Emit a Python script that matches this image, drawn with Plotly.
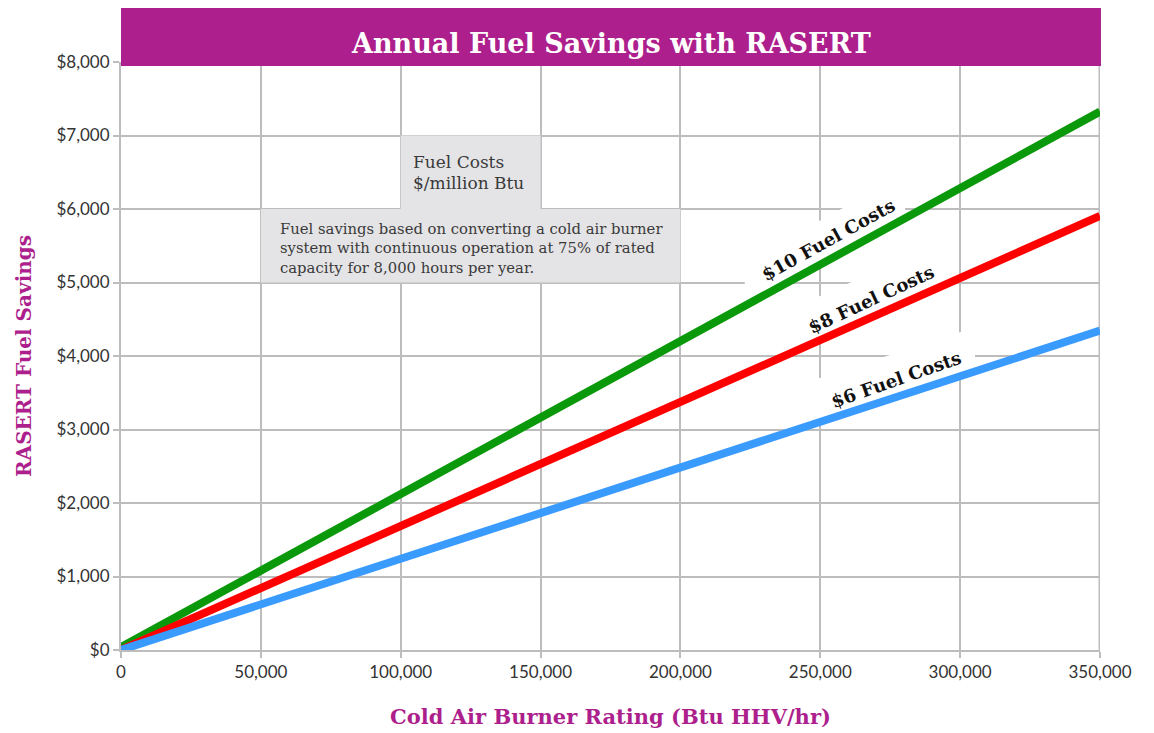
import plotly.graph_objects as go

# Data
burner_rating = [0, 350000]
savings_10 = [40, 7325]
savings_8 = [0, 5905]
savings_6 = [0, 4345]
series_names = ["$10 Fuel Costs", "$8 Fuel Costs", "$6 Fuel Costs"]
x_ticks = [0, 50000, 100000, 150000, 200000, 250000, 300000, 350000]
y_ticks = [0, 1000, 2000, 3000, 4000, 5000, 6000, 7000, 8000]
x_labels = ["{:,}".format(v) for v in x_ticks]
y_labels = ["${:,}".format(v) for v in y_ticks]

MAGENTA = "#AD1F8C"
GRID = "#BDBDBD"
SLAB = "DejaVu Serif"
SANS = "Lato, Open Sans, sans-serif"

fig = go.Figure()
colors = ["#0A990A", "#FF0000", "#3A9BFF"]
all_series = [savings_10, savings_8, savings_6]
for name, ys, c in zip(series_names, all_series, colors):
    fig.add_trace(go.Scatter(x=burner_rating, y=ys, mode="lines", name=name,
                             line=dict(color=c, width=8), cliponaxis=False,
                             hoverinfo="skip"))

# grey note boxes
fig.add_shape(type="rect", x0=100000, x1=150000, y0=6000, y1=7000,
              fillcolor="#E4E4E6", line=dict(width=0), layer="between")
fig.add_shape(type="rect", x0=50000, x1=200000, y0=5000, y1=6000,
              fillcolor="#E4E4E6", line=dict(width=0), layer="between")


def line_at(ys, xv):
    return ys[0] + (ys[1] - ys[0]) * (xv - burner_rating[0]) / (burner_rating[1] - burner_rating[0])


# white backing under the line labels (hides grid, stays under the lines)
for ys, xa, xb in [(savings_10, 223000, 280300), (savings_8, 241000, 296400), (savings_6, 248100, 305300)]:
    ya, yb = line_at(ys, xa), line_at(ys, xb)
    off = 600
    path = f"M {xa},{ya} L {xb},{yb} L {xb},{yb + off} L {xa},{ya + off} Z"
    fig.add_shape(type="path", path=path, fillcolor="white", line=dict(width=0), layer="between")

# title bar
fig.add_shape(type="rect", xref="paper", yref="paper", x0=0, x1=1.001,
              y0=0.993, y1=1.097, fillcolor=MAGENTA, line=dict(width=0), layer="above")

ann = []
ann.append(dict(xref="paper", yref="paper", x=0.5, y=1.031, text="<b>Annual Fuel Savings with RASERT</b>",
                showarrow=False, font=dict(family=SLAB, size=27, color="white"),
                xanchor="center", yanchor="middle"))
# box 1 text
for txt, yv in [("Fuel Costs", 6640), ("$/million Btu", 6360)]:
    ann.append(dict(x=103800, y=yv, text=txt, showarrow=False, xanchor="left", yanchor="middle",
                    font=dict(family=SLAB, size=17, color="#3a3a3a")))
box2 = ["Fuel savings based on converting a cold air burner",
        "system with continuous operation at 75% of rated",
        "capacity for 8,000 hours per year."]
for txt, yv in zip(box2, [5740, 5470, 5200]):
    ann.append(dict(x=56000, y=yv, text=txt, showarrow=False, xanchor="left", yanchor="middle",
                    font=dict(family=SLAB, size=14.8, color="#3a3a3a")))

# line labels
for txt, xv, yv, ang in [(series_names[0], 253000, 5580, -29),
                         (series_names[1], 268000, 4770, -25),
                         (series_names[2], 277000, 3680, -19.5)]:
    ann.append(dict(x=xv, y=yv, text="<b>" + txt + "</b>", showarrow=False, textangle=ang,
                    font=dict(family=SLAB, size=18, color="#111111")))
fig.update_layout(annotations=ann)

fig.update_layout(
    width=1154, height=733,
    margin=dict(l=113, r=62, t=54, b=91),
    paper_bgcolor="white", plot_bgcolor="white",
    showlegend=False,
    xaxis=dict(range=[0, 350000], tickmode="array", tickvals=x_ticks, ticktext=x_labels,
               showgrid=True, gridcolor=GRID, gridwidth=2,
               zeroline=False, showline=True, linecolor=GRID, linewidth=2, mirror=False,
               ticks="outside", ticklen=6, tickcolor=GRID, tickwidth=2,
               tickfont=dict(family=SANS, size=17, color="#333333"),
               title=dict(text="<b>Cold Air Burner Rating (Btu HHV/hr)</b>", standoff=28,
                          font=dict(family=SLAB, size=21, color=MAGENTA))),
    yaxis=dict(range=[0, 8000], tickmode="array", tickvals=y_ticks, ticktext=y_labels,
               showgrid=True, gridcolor=GRID, gridwidth=2,
               zeroline=False, showline=True, linecolor=GRID, linewidth=2,
               ticks="outside", ticklen=6, tickcolor=GRID, tickwidth=2,
               tickfont=dict(family=SANS, size=17, color="#333333"),
               title=dict(text="<b>RASERT Fuel Savings</b>", standoff=19,
                          font=dict(family=SLAB, size=20, color=MAGENTA))),
)
# right edge line
fig.add_shape(type="line", x0=350000, x1=350000, y0=0, y1=8000,
              line=dict(color=GRID, width=3), layer="between")

fig.write_html("out.html")
